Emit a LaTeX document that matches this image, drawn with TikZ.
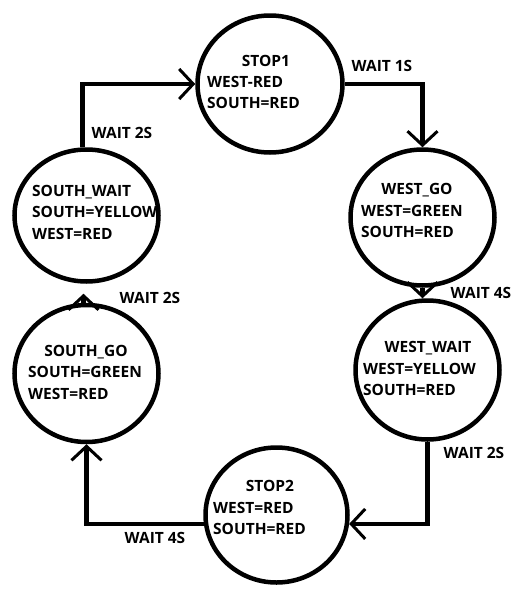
\documentclass[tikz,border=0pt]{standalone}
\usepackage{fontspec}
\setmainfont{Open Sans}
\usetikzlibrary{shapes.geometric,arrows.meta}
\begin{document}
\begin{tikzpicture}[x=1pt,y=-1pt,
  state/.style={draw, ellipse, line width=4.5pt, inner sep=0pt},
  txt/.style={inner sep=0pt, font=\fontsize{15.5}{18}\selectfont\bfseries, text height=11pt, text depth=0pt},
  conn/.style={line width=4.5pt, -{Straight Barb[length=14pt,width=30pt,line width=3pt]}},
]
\useasboundingbox[fill=white] (0,0) rectangle (522,592);
% states
\node[state, minimum width=145pt, minimum height=137pt] (s1) at (270,84) {};
\node[state, minimum width=144pt, minimum height=136pt] (wg) at (422.5,217.5) {};
\node[state, minimum width=144pt, minimum height=139pt] (ww) at (427.5,370) {};
\node[state, minimum width=142pt, minimum height=135pt] (s2) at (276.5,515) {};
\node[state, minimum width=144pt, minimum height=137pt] (sg) at (86.5,373.5) {};
\node[state, minimum width=144pt, minimum height=132pt] (sw) at (86.5,215.5) {};
% state texts
\node[txt] (s1a) at (266,61) {STOP1};
\node[txt, anchor=west] (s1b) at (207,82) {WEST-RED};
\node[txt, anchor=west] (s1c) at (207,103) {SOUTH=RED};
\node[txt] (wga) at (417,189) {WEST\_GO};
\node[txt, anchor=west] (wgb) at (361,211) {WEST=GREEN};
\node[txt, anchor=west] (wgc) at (361,232) {SOUTH=RED};
\node[txt] (wwa) at (428,347) {WEST\_WAIT};
\node[txt, anchor=west] (wwb) at (363,369) {WEST=YELLOW};
\node[txt, anchor=west] (wwc) at (363,390) {SOUTH=RED};
\node[txt] (s2a) at (270,486) {STOP2};
\node[txt, anchor=west] (s2b) at (213,508) {WEST=RED};
\node[txt, anchor=west] (s2c) at (213,529) {SOUTH=RED};
\node[txt] (sga) at (86,351) {SOUTH\_GO};
\node[txt, anchor=west] (sgb) at (28,372) {SOUTH=GREEN};
\node[txt, anchor=west] (sgc) at (28,394) {WEST=RED};
\node[txt, anchor=west] (swa) at (32,191) {SOUTH\_WAIT};
\node[txt, anchor=west] (swb) at (32,212) {SOUTH=YELLOW};
\node[txt, anchor=west] (swc) at (32,234) {WEST=RED};
% connector labels
\node[txt] (l1) at (382,66) {WAIT 1S};
\node[txt] (l2) at (122,133) {WAIT 2S};
\node[txt] (l3) at (481,293) {WAIT 4S};
\node[txt] (l4) at (474,453) {WAIT 2S};
\node[txt] (l5) at (155,538) {WAIT 4S};
\node[txt] (l6) at (150,298) {WAIT 2S};
% connectors
\draw[conn] ([xshift=-4pt]sw.north) |- (s1.west);
\draw[conn] (s1.east) -| (wg.north);
\draw[conn] (wg.south) -- (wg.south |- ww.north);
\draw[conn] (ww.south) |- (s2.-7);
\draw[conn] (s2.187) -| (sg.south);
\draw[conn, shorten >=10pt] ([xshift=-3pt]sg.north) -- ([xshift=-3pt]sw.south);
\end{tikzpicture}
\end{document}
